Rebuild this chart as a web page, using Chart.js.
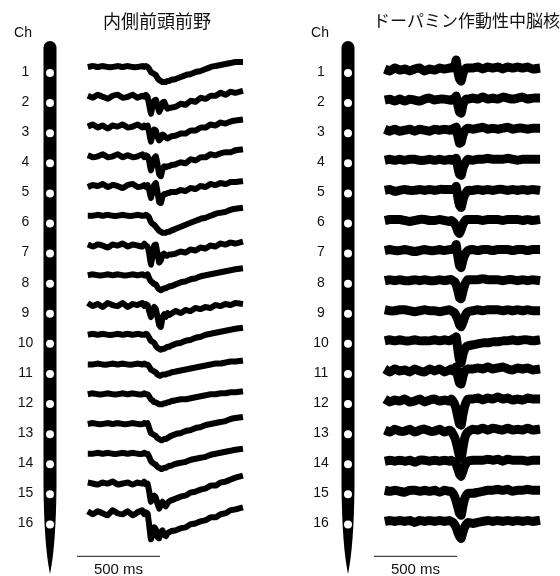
<!DOCTYPE html>
<html>
<head>
<meta charset="utf-8">
<script src="https://cdn.jsdelivr.net/npm/chart.js@4.4.1/dist/chart.umd.min.js"></script>
<style>
  html, body { margin: 0; padding: 0; background: #fff; }
  #wrap { position: relative; width: 560px; height: 576px; overflow: hidden; }
  canvas { position: absolute; top: 0; }
</style>
</head>
<body>
<div id="wrap">
  <canvas id="leftChart" width="314" height="576" style="left:0"></canvas>
  <canvas id="rightChart" width="280" height="576" style="left:280px"></canvas>
</div>
<script>
// channel numbers along the probe (1 = top)
const channels = ['1', '2', '3', '4', '5', '6', '7', '8', '9', '10', '11', '12', '13', '14', '15', '16'];

// sample times (ms), denser around the stimulus
const leftTimes = [0, 30, 60, 90, 120, 150, 180, 210, 240, 270, 300, 330, 340, 350, 360,
    370, 380, 390, 400, 410, 420, 430, 440, 450, 460, 470, 480, 490, 500,
    530, 560, 590, 620, 650, 680, 710, 740, 770, 800, 830, 860, 890, 935];
const rightTimes = [0, 30, 60, 90, 120, 150, 180, 210, 240, 270, 300, 330, 360, 390,
    400, 410, 420, 430, 440, 450, 460, 470, 480, 490, 500,
    530, 560, 590, 620, 650, 680, 710, 740, 770, 800, 830, 860, 890, 935];

// scale bar
const scaleBarStart = -65;
const scaleBarLength = 500;

// 内側前頭前野 (mPFC) traces
const pfc1 = [0, 1, 0, 1, 0, 0, 1, 0, 1, 0, 0, 1, 0, 1, 0, -2, -5, -6, -7, -8, -11, -13, -14, -15, -15, -15, -14, -14, -13, -12, -10, -8, -7, -5, -4, -2, 0, 1, 2, 3, 4, 5, 5];
const pfc2 = [1, -1, 2, 0, -2, 1, 2, -1, 0, 2, -1, 1, 0, 2, 0, -8, -17, -10, -4, -3, -9, -15, -12, -6, -5, -9, -12, -11, -11, -10, -7, -8, -4, -5, -1, -2, 1, 1, 4, 2, 5, 4, 6];
const pfc3 = [0, 2, -1, 1, -2, 1, 0, 2, -1, 0, 2, -1, 1, -1, 1, -6, -15, -9, -3, -4, -10, -14, -12, -8, -9, -11, -12, -11, -10, -9, -7, -7, -4, -4, -1, -1, 2, 1, 4, 3, 5, 6, 7];
const pfc4 = [1, -1, 0, 2, -1, 0, 2, -1, 1, -1, 0, 2, -1, 1, 0, -5, -14, -8, -2, 0, -8, -18, -20, -13, -10, -11, -10, -10, -9, -8, -6, -7, -3, -4, -1, -1, 2, 1, 3, 4, 4, 6, 7];
const pfc5 = [-1, 1, 0, 2, -1, 1, 0, -2, 1, 2, -1, 0, 1, -1, 1, -4, -12, -6, 1, 3, -6, -16, -17, -11, -8, -8, -7, -7, -6, -6, -4, -5, -2, -3, 0, -1, 2, 1, 3, 2, 4, 4, 5];
const pfc6 = [0, 0, 1, 0, 1, 0, 0, 1, 0, 0, 1, 0, 0, 1, 0, -2, -6, -8, -9, -11, -13, -15, -16, -17, -17, -17, -16, -16, -15, -13, -11, -9, -7, -5, -3, -2, 0, 2, 3, 4, 6, 7, 8];
const pfc7 = [1, -1, 1, 0, -2, 1, 0, 2, -1, 1, 0, -1, 2, 0, -1, -8, -19, -10, 0, 1, -8, -17, -15, -9, -8, -10, -10, -9, -9, -8, -6, -7, -4, -5, -2, -3, 0, -1, 2, 1, 3, 2, 4];
const pfc8 = [0, 1, 0, 0, 1, 0, 1, 0, 0, 1, 0, 1, 0, 0, 1, -3, -6, -7, -9, -9, -12, -14, -15, -14, -13, -13, -12, -11, -11, -9, -7, -6, -4, -3, -1, 0, 1, 2, 3, 4, 5, 6, 7];
const pfc9 = [2, -1, 1, -2, 2, 0, -1, 2, -2, 1, 0, 2, -1, 1, 0, -6, -12, -8, -2, -4, -12, -20, -22, -13, -9, -12, -8, -10, -9, -6, -8, -5, -6, -3, -4, -2, -3, 0, -1, 1, 0, 2, 1];
const pfc10 = [0, 1, 0, 1, 0, 0, 1, 0, 1, 0, 1, 0, 0, 1, 0, -3, -6, -7, -8, -11, -13, -14, -15, -14, -14, -13, -12, -12, -11, -9, -8, -6, -5, -3, -2, 0, 1, 2, 3, 4, 5, 6, 7];
const pfc11 = [0, 0, 1, 0, 0, 1, 0, 1, 0, 0, 1, 0, 1, 0, 0, -2, -5, -6, -7, -8, -10, -11, -11, -10, -10, -10, -9, -9, -8, -7, -6, -5, -4, -3, -2, -1, 0, 1, 1, 2, 3, 3, 4];
const pfc12 = [0, 1, 0, 0, 1, 0, 0, 1, 0, 1, 0, 0, 1, 0, 0, -2, -5, -6, -8, -8, -9, -10, -10, -10, -9, -9, -8, -8, -7, -6, -5, -5, -4, -3, -2, -1, 0, 0, 1, 1, 2, 2, 3];
const pfc13 = [0, 1, 0, 0, 1, 0, 1, 0, 0, 1, 0, 0, 1, 0, 1, -4, -9, -10, -11, -12, -14, -15, -16, -16, -15, -15, -14, -13, -12, -10, -9, -7, -6, -4, -3, -1, 0, 1, 2, 3, 5, 6, 7];
const pfc14 = [0, 0, 1, 0, 1, 0, 0, 1, 0, 1, 0, 0, 1, 0, 0, -3, -7, -9, -10, -11, -13, -14, -15, -15, -14, -14, -13, -12, -12, -10, -9, -8, -6, -5, -4, -3, -1, 0, 1, 2, 3, 4, 5];
const pfc15 = [1, 0, -1, 1, 0, 2, -1, 0, 1, -1, 1, 0, 2, -1, 0, -8, -18, -16, -12, -14, -20, -25, -22, -18, -21, -23, -20, -18, -17, -15, -13, -12, -9, -8, -6, -5, -2, -2, 1, 2, 4, 6, 8];
const pfc16 = [2, -1, 2, 0, -2, 3, 0, -1, 2, -2, 1, 3, -1, 1, 0, -12, -26, -20, -14, -16, -24, -25, -19, -17, -21, -23, -20, -19, -18, -17, -15, -14, -11, -10, -8, -7, -4, -4, -1, 0, 3, 4, 6];

// ドーパミン作動性中脳核 traces
const da1 = [1, -1, 2, 0, 1, -1, 1, 2, -1, 1, 0, 2, 1, 2, 2, 3, 3, 10, -2, -9, -11, -4, 0, 2, 2, 2, 3, 1, 3, 2, 3, 1, 3, 2, 3, 2, 3, 1, 2];
const da2 = [0, 1, -1, 1, -1, 1, 0, -1, 1, 2, 0, 1, 1, 0, 0, 1, 1, 4, -5, -12, -13, -5, -1, 1, 1, 2, 1, 3, 1, 2, 1, 3, 2, 1, 2, 3, 1, 2, 2];
const da3 = [1, -1, 1, -1, 0, 1, -1, 1, 0, -1, 1, 0, 1, 0, 1, 0, 2, 3, -6, -13, -12, -5, -1, 1, 2, 1, 2, 3, 1, 2, 1, 2, 3, 1, 2, 2, 1, 2, 2];
const da4 = [0, 1, 0, 1, 0, 1, 1, 0, 0, 1, 0, 1, 0, 1, 0, 1, 1, 2, -7, -14, -15, -8, -4, -1, 1, 0, 1, 1, 2, 1, 1, 1, 2, 1, 0, 1, 1, 1, 1];
const da5 = [0, 1, -1, 0, 1, 0, 0, 1, 0, 1, 0, 1, 1, 1, 1, 1, 1, 4, -7, -15, -17, -10, -5, -2, 0, 0, 1, 0, 1, 0, 1, 1, 0, 1, 0, 1, 0, 1, 0];
const da6 = [0, 1, 1, 1, 0, -1, 0, 1, 1, 0, 0, 1, 0, -1, 0, -1, -3, -6, -11, -13, -9, -4, -1, 1, 1, 1, 1, 0, 1, 1, 1, 0, 1, 1, 1, 0, 1, 0, 1];
const da7 = [0, 1, 0, 0, 1, 0, -1, 0, 1, 0, 0, 1, 0, 1, 1, 1, 2, 6, -6, -15, -17, -10, -5, -2, 0, 1, 0, 1, 1, 0, 1, 1, 1, 0, 1, 1, 0, 1, 1];
const da8 = [0, 1, 0, 1, 0, 0, 1, 0, 1, 0, 0, 1, 0, 1, 1, 0, -1, -4, -10, -17, -18, -11, -5, -1, 1, 1, 1, 2, 1, 1, 1, 0, 1, 1, 0, 1, 0, 1, 0];
const da9 = [1, 0, 0, 1, 1, 0, -1, 0, 1, 0, 0, -1, 0, 1, 0, -1, -2, -5, -9, -14, -16, -12, -7, -3, -1, 0, 1, 0, 1, 1, 1, 0, 1, 0, 1, 0, 1, 0, 0];
const da10 = [0, 1, 0, 1, 0, 0, 1, 0, 0, 0, 1, 0, 1, 0, 1, 2, 2, 4, -9, -19, -22, -14, -9, -6, -5, -4, -3, -2, -2, -1, -1, 0, 0, 1, 0, 1, 1, 0, 1];
const da11 = [2, -1, 2, 0, 1, -1, 2, 0, -1, 2, 0, 2, -1, 1, 2, 0, 2, 4, -6, -12, -13, -6, 0, 1, 2, 2, 3, 2, 4, 2, 3, 4, 2, 1, 3, 2, 3, 1, 2];
const da12 = [2, -1, 1, 0, 2, -1, 0, 2, -1, 1, 2, 0, 1, 0, 2, 0, -3, -8, -16, -23, -24, -14, -6, -1, 2, 2, 3, 1, 3, 2, 4, 2, 3, 1, 2, 1, 3, 2, 2];
const da13 = [1, -1, 2, 0, 0, 2, -1, 1, 2, 0, 0, 2, -1, 1, 0, -3, -6, -11, -18, -25, -27, -17, -8, -3, -1, 2, 1, 3, 1, 3, 2, 1, 3, 1, 2, 1, 3, 1, 2];
const da14 = [0, 1, 0, 1, 0, 1, -1, 1, 1, 0, 1, 0, 1, 0, 1, 0, -1, -3, -8, -13, -15, -10, -5, -2, 0, 1, 1, 1, 2, 1, 2, 0, 2, 1, 1, 1, 0, 1, 1];
const da15 = [1, 0, 1, 0, -1, 1, 1, 0, 1, 0, 1, -1, 1, 0, 0, -2, -5, -10, -16, -22, -24, -15, -8, -4, -2, -2, -1, 0, 1, 1, 2, 1, 2, 0, 1, 1, 2, 1, 1];
const da16 = [0, 1, 0, 1, 0, 1, -1, 1, 0, 1, 0, 1, 0, 1, 0, -1, -3, -6, -11, -15, -17, -11, -6, -3, -1, -2, -1, 0, 1, 0, 1, 0, 1, 0, 1, 0, 1, 0, 1];

const pfcTraces = [pfc1, pfc2, pfc3, pfc4, pfc5, pfc6, pfc7, pfc8, pfc9, pfc10, pfc11, pfc12, pfc13, pfc14, pfc15, pfc16];
const daTraces = [da1, da2, da3, da4, da5, da6, da7, da8, da9, da10, da11, da12, da13, da14, da15, da16];

const labelFont = '"Liberation Sans", Arial, sans-serif';
const channelGap = 30.07;

// probe drawing, "Ch" heading and scale-bar label
const probePlugin = {
    id: 'probe',
    beforeDatasetsDraw(chart, args, opts) {
        const ctx = chart.ctx;
        const yAxis = chart.scales.y;
        const xAxis = chart.scales.x;
        const cx = opts.probeX;
        const half = 6.5;
        const top = 41;
        ctx.save();
        ctx.fillStyle = '#000';
        ctx.beginPath();
        ctx.moveTo(cx - half, top + half);
        ctx.arc(cx, top + half, half, Math.PI, 0);
        ctx.lineTo(cx + half, 485);
        ctx.quadraticCurveTo(cx + half - 0.5, 545, cx, 574);
        ctx.quadraticCurveTo(cx - half + 0.5, 545, cx - half, 485);
        ctx.closePath();
        ctx.fill();

        ctx.fillStyle = '#fff';
        yAxis.ticks.forEach(t => {
            const y = yAxis.getPixelForValue(t.value);
            ctx.beginPath();
            ctx.arc(cx, y + 1, 4, 0, Math.PI * 2);
            ctx.fill();
        });

        ctx.fillStyle = '#111';
        ctx.textAlign = 'center';
        ctx.textBaseline = 'middle';
        ctx.font = '14px ' + labelFont;
        ctx.fillText('Ch', opts.chX, 33);
        ctx.font = '15px ' + labelFont;
        const mid = (xAxis.getPixelForValue(scaleBarStart) + xAxis.getPixelForValue(scaleBarStart + scaleBarLength)) / 2;
        ctx.fillText(scaleBarLength + ' ms', mid, 570);
        ctx.restore();
    }
};

function makePanel(canvasId, title, titleSize, titleAlign, times, traces, lift, spacing, axisWidth, tickPad, xMax, lineWidth, probeX, chX) {
    const datasets = traces.map((vals, i) => ({
        data: times.map((t, j) => ({ x: t, y: lift - i * spacing + vals[j] })),
        borderColor: '#000',
        borderWidth: lineWidth,
        pointRadius: 0,
        tension: 0.1,
        borderJoinStyle: 'round',
        borderCapStyle: 'butt'
    }));
    datasets.push({
        data: [{ x: scaleBarStart, y: -484 }, { x: scaleBarStart + scaleBarLength, y: -484 }],
        borderColor: '#444',
        borderWidth: 1.2,
        pointRadius: 0
    });

    return new Chart(document.getElementById(canvasId).getContext('2d'), {
        type: 'line',
        data: { datasets: datasets },
        plugins: [probePlugin],
        options: {
            responsive: false,
            animation: false,
            layout: { padding: 0 },
            plugins: {
                legend: { display: false },
                tooltip: { enabled: false },
                title: {
                    display: true,
                    text: title,
                    align: titleAlign,
                    color: '#111',
                    font: { family: '"Noto Sans CJK JP", sans-serif', size: titleSize, weight: 'normal', lineHeight: 21.6 / titleSize },
                    padding: { top: 10, bottom: 8 }
                },
                probe: { probeX: probeX, chX: chX }
            },
            scales: {
                x: { type: 'linear', min: -65, max: xMax, display: false },
                y: {
                    type: 'linear',
                    min: -503.6,
                    max: 32.4,
                    grid: { display: false, drawTicks: false },
                    border: { display: false },
                    afterBuildTicks: axis => {
                        axis.ticks = channels.map((c, i) => ({ value: -i * channelGap }));
                    },
                    afterFit: axis => {
                        axis.width = axisWidth;
                        axis.paddingTop = 0;
                        axis.paddingBottom = 0;
                    },
                    ticks: {
                        crossAlign: 'center',
                        padding: tickPad,
                        color: '#111',
                        font: { family: labelFont, size: 14 },
                        callback: (v, idx) => channels[idx]
                    }
                }
            }
        }
    });
}

makePanel('leftChart', '内側前頭前野', 18, 'center', leftTimes, pfcTraces, 5, 29.73, 77, 43.7, 1363, 6, 50, 23);
makePanel('rightChart', 'ドーパミン作動性中脳核', 17, 'end', rightTimes, daTraces, 2, 30.07, 94, 45.2, 1055, 9, 68, 40);
</script>
</body>
</html>
